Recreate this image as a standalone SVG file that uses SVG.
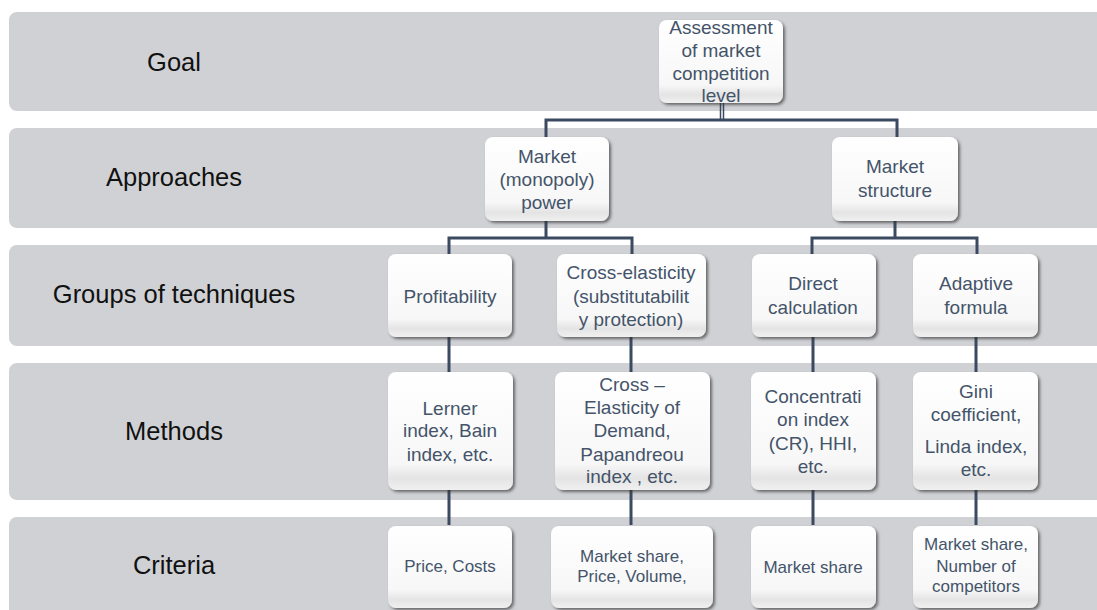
<svg xmlns="http://www.w3.org/2000/svg" width="1097" height="610" viewBox="0 0 1097 610">
<style>
.band{fill:#d0d1d5}
.lbl{font-family:"Liberation Sans",Arial,sans-serif;font-size:25.5px;fill:#111;text-anchor:middle}
.nt{font-family:"Liberation Sans",Arial,sans-serif;font-size:19px;fill:#44546a;text-anchor:middle}
.ct{font-family:"Liberation Sans",Arial,sans-serif;font-size:17px;fill:#44546a;text-anchor:middle}
.box{fill:url(#g);filter:url(#sh)}
.c{fill:none;stroke:#3b4a60;stroke-width:3}
.c2{fill:none;stroke:#3b4a60;stroke-width:1.5}
</style>
<defs>
<linearGradient id="g" x1="0" y1="0" x2="0" y2="1">
<stop offset="0" stop-color="#ffffff"/>
<stop offset="0.78" stop-color="#f7f7f7"/>
<stop offset="0.9" stop-color="#e4e4e4"/>
<stop offset="1" stop-color="#f0f0f0"/>
</linearGradient>
<filter id="sh" x="-10%" y="-10%" width="125%" height="130%">
<feDropShadow dx="2" dy="2" stdDeviation="1.5" flood-color="#303030" flood-opacity="0.65"/>
</filter>
</defs>
<g id="bands">
<rect class="band" x="9" y="12" width="1100" height="99" rx="8"/>
<rect class="band" x="9" y="128" width="1100" height="100" rx="8"/>
<rect class="band" x="9" y="245" width="1100" height="101" rx="8"/>
<rect class="band" x="9" y="363" width="1100" height="137" rx="8"/>
<rect class="band" x="9" y="517" width="1100" height="110" rx="8"/>
</g>
<g id="row-labels">
<text class="lbl" x="174" y="71">Goal</text>
<text class="lbl" x="174" y="186">Approaches</text>
<text class="lbl" x="174" y="303">Groups of techniques</text>
<text class="lbl" x="174" y="440">Methods</text>
<text class="lbl" x="174" y="574">Criteria</text>
</g>
<g id="connectors">
<path class="c2" d="M720.5 103V120M723.5 103V120"/>
<path class="c" d="M546 120H897M546 118.5V137M897 118.5V137"/>
<path class="c" d="M546 221V238M449 238H632M449 236.5V254M632 236.5V254"/>
<path class="c" d="M895 221V238M812 238H977M812 236.5V254M977 236.5V254"/>
<path class="c" d="M449 337V372M631 337V372M813 337V372M976 337V372"/>
<path class="c" d="M449 490V525M631 490V525M813 490V525M976 490V525"/>
</g>
<g id="goal">
<rect class="box" x="659" y="20" width="124" height="83" rx="8"/>
<text class="nt" x="721" y="33.5">Assessment</text>
<text class="nt" x="721" y="56.7">of market</text>
<text class="nt" x="721" y="79.8">competition</text>
<text class="nt" x="721" y="102">level</text>
</g>
<g id="market-power">
<rect class="box" x="485" y="137" width="124" height="84" rx="8"/>
<text class="nt" x="547" y="163">Market</text>
<text class="nt" x="547" y="186">(monopoly)</text>
<text class="nt" x="547" y="209">power</text>
</g>
<g id="market-structure">
<rect class="box" x="832" y="137" width="126" height="84" rx="8"/>
<text class="nt" x="895" y="173">Market</text>
<text class="nt" x="895" y="196.5">structure</text>
</g>
<g id="profitability">
<rect class="box" x="388" y="254" width="124" height="83" rx="8"/>
<text class="nt" x="450" y="302.7">Profitability</text>
</g>
<g id="cross-elasticity">
<rect class="box" x="557" y="254" width="149" height="83" rx="8"/>
<text class="nt" x="631" y="279.3">Cross-elasticity</text>
<text class="nt" x="631" y="302.7">(substitutabilit</text>
<text class="nt" x="631" y="326">y protection)</text>
</g>
<g id="direct-calculation">
<rect class="box" x="752" y="254" width="124" height="83" rx="8"/>
<text class="nt" x="813" y="290">Direct</text>
<text class="nt" x="813" y="314.3">calculation</text>
</g>
<g id="adaptive-formula">
<rect class="box" x="913" y="254" width="125" height="83" rx="8"/>
<text class="nt" x="976" y="290">Adaptive</text>
<text class="nt" x="976" y="314.3">formula</text>
</g>
<g id="lerner">
<rect class="box" x="388" y="372" width="125" height="118" rx="8"/>
<text class="nt" x="450" y="415">Lerner</text>
<text class="nt" x="450" y="437.3">index, Bain</text>
<text class="nt" x="450" y="460.7">index, etc.</text>
</g>
<g id="cross-elasticity-demand">
<rect class="box" x="555" y="372" width="155" height="118" rx="8"/>
<text class="nt" x="632" y="390.7">Cross –</text>
<text class="nt" x="632" y="414">Elasticity of</text>
<text class="nt" x="632" y="437.3">Demand,</text>
<text class="nt" x="632" y="460.7">Papandreou</text>
<text class="nt" x="632" y="483.3">index , etc.</text>
</g>
<g id="concentration">
<rect class="box" x="751" y="372" width="125" height="118" rx="8"/>
<text class="nt" x="813" y="403.3">Concentrati</text>
<text class="nt" x="813" y="426">on index</text>
<text class="nt" x="813" y="450">(CR), HHI,</text>
<text class="nt" x="813" y="472.7">etc.</text>
</g>
<g id="gini">
<rect class="box" x="913" y="372" width="125" height="118" rx="8"/>
<text class="nt" x="976" y="397.7">Gini</text>
<text class="nt" x="976" y="420.7">coefficient,</text>
<text class="nt" x="976" y="453.3">Linda index,</text>
<text class="nt" x="976" y="476">etc.</text>
</g>
<g id="crit-price-costs">
<rect class="box" x="388" y="526" width="124" height="82" rx="8"/>
<text class="ct" x="450" y="571.7">Price, Costs</text>
</g>
<g id="crit-share-price-volume">
<rect class="box" x="551" y="526" width="162" height="82" rx="8"/>
<text class="ct" x="632" y="561.5">Market share,</text>
<text class="ct" x="632" y="581.7">Price, Volume,</text>
</g>
<g id="crit-share">
<rect class="box" x="751" y="526" width="125" height="82" rx="8"/>
<text class="ct" x="813" y="572.7">Market share</text>
</g>
<g id="crit-share-competitors">
<rect class="box" x="913" y="526" width="125" height="82" rx="8"/>
<text class="ct" x="976" y="550">Market share,</text>
<text class="ct" x="976" y="571.7">Number of</text>
<text class="ct" x="976" y="591.7">competitors</text>
</g>
</svg>
